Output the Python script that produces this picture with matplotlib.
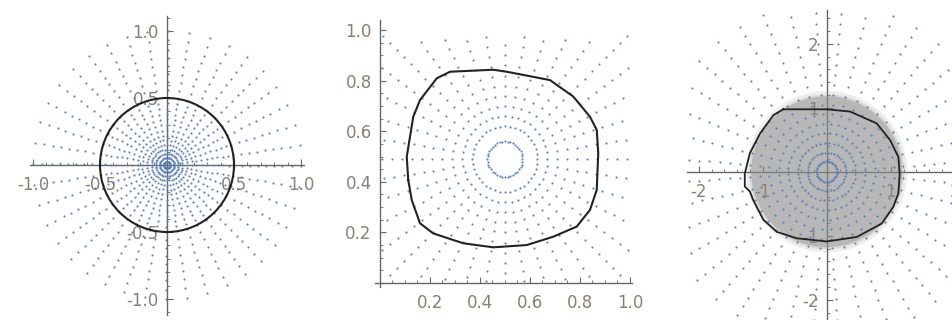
import numpy as np
import matplotlib.pyplot as plt
from matplotlib.patches import Circle
from matplotlib.ticker import FixedLocator, FuncFormatter

plt.rcParams['axes.unicode_minus'] = False
plt.rcParams['font.family'] = 'DejaVu Sans'

# --- panel 1: sample points on rays, circle of radius 0.5 ---
n_rays_1 = 40
ray_offset_1 = -0.5          # degrees
radii_1 = [0.025, 0.055, 0.085, 0.115, 0.15, 0.185, 0.22, 0.26, 0.30, 0.34,
           0.38, 0.42, 0.46, 0.5, 0.56, 0.62, 0.68, 0.74, 0.80, 0.86, 0.93, 1.0]
circle_r_1 = 0.5

# --- panel 2: sample points round (0.5, 0.49), closed boundary curve ---
center_2 = (0.5, 0.49)
n_rays_2 = 40
radii_2 = [0.07, 0.13, 0.17, 0.21, 0.25, 0.29, 0.33, 0.37, 0.41, 0.45,
           0.49, 0.53, 0.57, 0.61, 0.65, 0.69, 0.73]
curve_2_x = [0.113, 0.107, 0.133, 0.16, 0.227, 0.28, 0.453, 0.507, 0.68, 0.773,
             0.84, 0.867, 0.873, 0.867, 0.84, 0.787, 0.693, 0.587, 0.453, 0.333,
             0.213, 0.16, 0.127, 0.113]
curve_2_y = [0.407, 0.499, 0.657, 0.723, 0.809, 0.835, 0.843, 0.835, 0.802, 0.737,
             0.657, 0.605, 0.513, 0.368, 0.289, 0.223, 0.183, 0.150, 0.141, 0.157,
             0.196, 0.236, 0.328, 0.407]

# --- panel 3: sample points on rays, gray disk, closed curve ---
n_rays_3 = 40
ray_offset_3 = 4.0
radii_3 = [0.16, 0.3, 0.45, 0.6, 0.75, 0.9, 1.05, 1.2, 1.36, 1.52, 1.68,
           1.84, 2.0, 2.16, 2.32, 2.48, 2.64]
disk_r_3 = 1.18
curve_3_x = [-0.68, 0.0, 0.364, 0.78, 0.99, 1.12, 1.14, 1.12, 1.04, 0.86, 0.47, 0.0,
             -0.47, -0.78, -0.99, -1.15, -1.2, -1.28, -1.28, -1.2, -1.04, -0.83, -0.68]
curve_3_y = [0.975, 0.975, 0.94, 0.756, 0.495, 0.23, -0.03, -0.34, -0.55, -0.81, -1.02,
             -1.09, -1.04, -0.94, -0.75, -0.44, -0.31, -0.23, -0.03, 0.29, 0.6, 0.886, 0.975]

dot_color = '#5E81B5'
dot_size = 2.4
axis_gray = '#666666'
label_color = '#8a7f74'
W, H = 953, 320


def place(x0, x1, y0, y1):
    return [x0 / W, 1 - y1 / H, (x1 - x0) / W, (y1 - y0) / H]


def ray_points(n, offset, radii, cx=0.0, cy=0.0):
    ang = np.deg2rad(offset + 360.0 / n * np.arange(n))
    A, R = np.meshgrid(ang, radii)
    return cx + (R * np.cos(A)).ravel(), cy + (R * np.sin(A)).ravel()


def style(ax, xmaj, xmin, ymaj, ymin, decimals):
    for s in ['top', 'right']:
        ax.spines[s].set_visible(False)
    for s in ['left', 'bottom']:
        ax.spines[s].set_position(('data', 0))
        ax.spines[s].set_color(axis_gray)
        ax.spines[s].set_linewidth(1.0)
    ax.xaxis.set_major_locator(FixedLocator(xmaj))
    ax.xaxis.set_minor_locator(FixedLocator(xmin))
    ax.yaxis.set_major_locator(FixedLocator(ymaj))
    ax.yaxis.set_minor_locator(FixedLocator(ymin))
    f = FuncFormatter(lambda v, p: ('%.' + str(decimals) + 'f') % v)
    ax.xaxis.set_major_formatter(f)
    ax.yaxis.set_major_formatter(f)
    ax.tick_params(which='both', direction='in', color=axis_gray,
                   labelcolor=label_color, labelsize=12)
    ax.tick_params(which='major', length=4, width=0.8)
    ax.tick_params(which='minor', length=2.2, width=0.6)
    ax.tick_params(axis='x', pad=8)
    ax.tick_params(axis='y', pad=6)
    ax.patch.set_visible(False)


fig = plt.figure(figsize=(9.53, 3.2), dpi=100)

# panel 1
s1 = 134.0
ax1 = fig.add_axes(place(167 - 1.02 * s1, 167 + 1.02 * s1, 165 - 1.11 * s1, 165 + 1.12 * s1))
ax1.set_xlim(-1.02, 1.02)
ax1.set_ylim(-1.12, 1.11)
px, py = ray_points(n_rays_1, ray_offset_1, radii_1)
ax1.scatter(px, py, s=dot_size, color=dot_color, linewidths=0, zorder=3)
ax1.add_patch(Circle((0, 0), circle_r_1, fill=False, ec='#222222', lw=1.5, zorder=4))
maj1 = [-1.0, -0.5, 0.5, 1.0]
min1 = [v / 10 for v in range(-11, 12) if v % 5 != 0]
style(ax1, maj1, min1, maj1, min1, 1)

# panel 2
s2x, s2y = 250.0, 253.0
ax2 = fig.add_axes(place(380 - 0.02 * s2x, 380 + 1.01 * s2x, 283 - 1.04 * s2y, 283 + 0.015 * s2y))
ax2.set_xlim(-0.02, 1.01)
ax2.set_ylim(-0.015, 1.04)
px, py = ray_points(n_rays_2, 0.0, radii_2, *center_2)
keep = (px > 0.005) & (px < 1.0) & (py > 0.005) & (py < 0.98)
ax2.scatter(px[keep], py[keep], s=dot_size, color=dot_color, linewidths=0, zorder=3)
ax2.plot(curve_2_x, curve_2_y, color='#222222', lw=1.5, zorder=4)
maj2 = [0.2, 0.4, 0.6, 0.8, 1.0]
min2 = [v / 20 for v in range(1, 21) if v % 4 != 0]
style(ax2, maj2, min2, maj2, min2, 1)

# panel 3 (runs past the right and bottom edges, as in the reference)
s3 = 64.0
ax3 = fig.add_axes(place(826.7 - 2.19 * s3, 826.7 + 2.3 * s3, 171.7 - 2.53 * s3, 171.7 + 2.5 * s3))
ax3.set_xlim(-2.19, 2.3)
ax3.set_ylim(-2.5, 2.53)
ax3.add_patch(Circle((0, 0), disk_r_3 + 0.08, color='#8a8a8a', alpha=0.15, lw=0, zorder=3))
ax3.add_patch(Circle((0, 0), disk_r_3 + 0.03, color='#8a8a8a', alpha=0.2, lw=0, zorder=3))
ax3.add_patch(Circle((0, 0), disk_r_3, color='#8a8a8a', alpha=0.42, lw=0, zorder=3))
px, py = ray_points(n_rays_3, ray_offset_3, radii_3)
ax3.scatter(px, py, s=dot_size, color=dot_color, linewidths=0, zorder=4)
ax3.plot(curve_3_x, curve_3_y, color='#222222', lw=1.3, zorder=5)
maj3 = [-2, -1, 1, 2]
min3 = [v / 5 for v in range(-12, 13) if v % 5 != 0]
style(ax3, maj3, min3, maj3, min3, 0)

fig.savefig('out.png', dpi=100)
